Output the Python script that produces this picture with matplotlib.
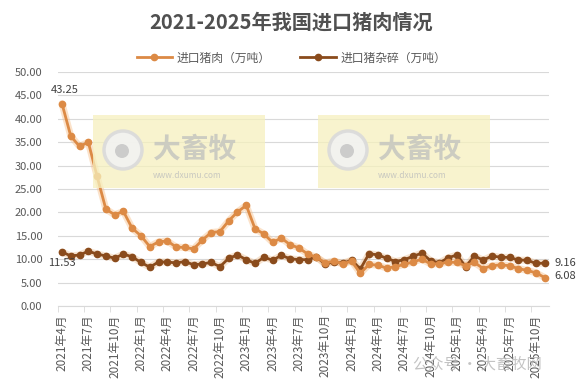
import matplotlib
matplotlib.use("Agg")
import matplotlib.pyplot as plt
from matplotlib.patches import Rectangle, Circle
import numpy as np

plt.rcParams['font.family'] = ['Noto Sans CJK SC', 'DejaVu Sans']

title = "2021-2025年我国进口猪肉情况"
series_names = ["进口猪肉（万吨）", "进口猪杂碎（万吨）"]

# monthly data, 2021年4月 .. 2025年11月
months = []
y, m = 2021, 4
for _ in range(56):
    months.append(f"{y}年{m}月")
    m += 1
    if m > 12:
        m = 1
        y += 1

pork = [43.25, 36.3, 34.1, 35.0, 27.7, 20.7, 19.5, 20.2, 16.6, 15.0,
        12.7, 13.7, 13.9, 12.6, 12.5, 12.2, 14.1, 15.7, 15.9, 18.2,
        20.1, 21.5, 16.5, 15.4, 13.6, 14.5, 13.1, 12.4, 11.1, 10.4,
        9.2, 9.6, 9.0, 9.6, 7.0, 8.9, 8.7, 8.1, 8.4, 8.9,
        9.4, 10.0, 9.0, 9.0, 9.4, 9.3, 8.6, 9.3, 8.0, 8.6,
        8.8, 8.6, 8.0, 7.6, 7.1, 6.08]
offal = [11.53, 10.7, 10.9, 11.7, 11.1, 10.7, 10.2, 11.1, 10.5, 9.3,
         8.3, 9.4, 9.4, 9.2, 9.5, 8.8, 9.0, 9.3, 8.4, 10.2,
         10.9, 9.9, 9.1, 10.4, 9.8, 10.8, 10.1, 9.9, 9.9, 10.5,
         8.9, 9.5, 9.1, 9.8, 7.9, 11.2, 10.9, 10.2, 9.5, 9.9,
         10.6, 11.3, 9.7, 9.2, 10.3, 10.9, 8.4, 10.7, 9.8, 10.7,
         10.4, 10.4, 9.8, 9.8, 9.1, 9.16]

yticks = [0, 5, 10, 15, 20, 25, 30, 35, 40, 45, 50]

c_pork = "#DC8A45"
c_offal = "#8A4B1C"
txt = "#595959"

fig = plt.figure(figsize=(5.83, 3.89), dpi=100)
ax = fig.add_axes([0.0988, 0.2134, 0.8429, 0.6015])

x = np.arange(len(months))

# watermarks
for x0 in (93, 318):
    fx, fy = x0 / 583, 1 - 188 / 389
    fig.patches.append(Rectangle((fx, fy), 172 / 583, 73 / 389, transform=fig.transFigure,
                                 facecolor="#F6F0BE", alpha=0.75, edgecolor="none", zorder=0))
    cx, cy = (x0 + 30) / 583, 1 - 150 / 389
    fig.patches.append(Circle((cx * 583, cy * 389), 19, transform=None,
                              facecolor="#F2F2F2", edgecolor="#DADADA", lw=2.5, alpha=0.9, zorder=0))
    fig.patches.append(Circle((cx * 583 - 1, cy * 389 - 1), 7, transform=None,
                              facecolor="#C8C8C8", edgecolor="none", alpha=0.9, zorder=0))
    fig.text((x0 + 60) / 583, 1 - 150 / 389, "大畜牧", fontsize=20, fontweight="bold",
             color="#C8C8C0", va="center", ha="left", alpha=0.9)
    fig.text((x0 + 60) / 583, 1 - 176 / 389, "www.dxumu.com", fontsize=6,
             color="#C8C8C0", va="center", ha="left")

fig.text(0.93, 1 - 364 / 389, "公众号 · 大畜牧网", fontsize=11, color="#B5B5B5",
         ha="right", va="center", alpha=0.8)

ax.patch.set_alpha(0)

# glow
ax.plot(x, pork, color="#F7C08A", lw=5, alpha=0.45, solid_capstyle="round", zorder=2)
ax.plot(x, offal, color="#E8B07A", lw=5, alpha=0.35, solid_capstyle="round", zorder=2)

l1, = ax.plot(x, pork, color=c_pork, lw=2, marker="o", ms=4.5, zorder=4, label=series_names[0])
l2, = ax.plot(x, offal, color=c_offal, lw=2, marker="o", ms=4.5, zorder=3, label=series_names[1])

ax.set_ylim(0, 50)
ax.set_xlim(-0.5, len(months) - 0.5)
ax.set_yticks(yticks)
ax.set_yticklabels([f"{v:.2f}" for v in yticks], color=txt, fontsize=8)
ax.tick_params(axis="y", length=0, pad=11)
ax.grid(axis="y", color="#D9D9D9", lw=0.8)
ax.set_axisbelow(True)

ax.set_xticks(x[::3])
ax.set_xticklabels(months[::3], rotation=90, color=txt, fontsize=8.5)
ax.tick_params(axis="x", length=0, pad=6)
ax.set_xticks(np.arange(-0.5, len(months), 3), minor=True)
ax.tick_params(axis="x", which="minor", length=4, color="#D9D9D9")

for s in ("top", "right", "left"):
    ax.spines[s].set_visible(False)
ax.spines["bottom"].set_color("#D9D9D9")

# data labels
ax.annotate(f"{pork[0]:.2f}", (x[0], pork[0]), xytext=(2, 6), textcoords="offset points",
            ha="center", va="bottom", fontsize=8, color="#404040")
ax.annotate(f"{offal[0]:.2f}", (x[0], offal[0]), xytext=(0, -4), textcoords="offset points",
            ha="center", va="top", fontsize=8, color="#404040")
ax.annotate(f"{offal[-1]:.2f}", (x[-1], offal[-1]), xytext=(7, 0), textcoords="offset points",
            ha="left", va="center", fontsize=8, color="#404040")
ax.annotate(f"{pork[-1]:.2f}", (x[-1], pork[-1]), xytext=(7, 1), textcoords="offset points",
            ha="left", va="center", fontsize=8, color="#404040")

fig.text(0.5, 1 - 22 / 389, title, ha="center", va="center", fontsize=14.5,
         fontweight="bold", color="#505050")
fig.legend(handles=[l1, l2], loc="center", bbox_to_anchor=(0.5, 1 - 58 / 389), ncol=2,
           frameon=False, fontsize=8.5, labelcolor=txt, handlelength=3, columnspacing=2.5,
           handletextpad=0.4)

fig.savefig("out.png", dpi=100)
